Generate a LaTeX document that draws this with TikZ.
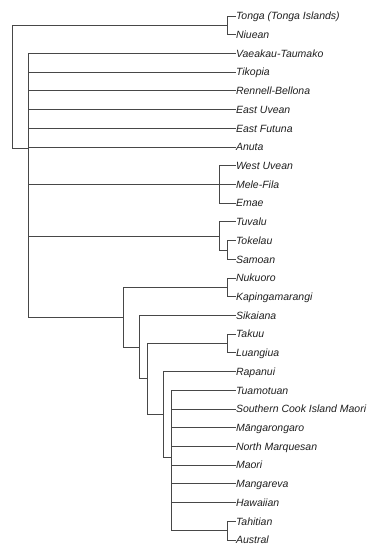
\documentclass[tikz,border=0pt]{standalone}
\usepackage{fontspec}
\setmainfont{Liberation Sans}
\begin{document}
\begin{tikzpicture}[x=1pt,y=-1pt,
  leaf/.style={anchor=west,inner sep=0pt,outer sep=0pt,text height=7.6pt,text depth=0pt,
    font=\fontsize{10.5}{12}\selectfont\itshape,text=black!88},
  br/.style={draw=black!72,line width=0.8pt}]
\useasboundingbox (0,0) rectangle (370,545);
% leaves
\node[leaf] (l0) at (236,16.00) {Tonga (Tonga Islands)};
\node[leaf] (l1) at (236,34.71) {Niuean};
\node[leaf] (l2) at (236,53.43) {Vaeakau-Taumako};
\node[leaf] (l3) at (236,72.14) {Tikopia};
\node[leaf] (l4) at (236,90.86) {Rennell-Bellona};
\node[leaf] (l5) at (236,109.57) {East Uvean};
\node[leaf] (l6) at (236,128.29) {East Futuna};
\node[leaf] (l7) at (236,147.00) {Anuta};
\node[leaf] (l8) at (236,165.71) {West Uvean};
\node[leaf] (l9) at (236,184.43) {Mele-Fila};
\node[leaf] (l10) at (236,203.14) {Emae};
\node[leaf] (l11) at (236,221.86) {Tuvalu};
\node[leaf] (l12) at (236,240.57) {Tokelau};
\node[leaf] (l13) at (236,259.29) {Samoan};
\node[leaf] (l14) at (236,278.00) {Nukuoro};
\node[leaf] (l15) at (236,296.71) {Kapingamarangi};
\node[leaf] (l16) at (236,315.43) {Sikaiana};
\node[leaf] (l17) at (236,334.14) {Takuu};
\node[leaf] (l18) at (236,352.86) {Luangiua};
\node[leaf] (l19) at (236,371.57) {Rapanui};
\node[leaf] (l20) at (236,390.29) {Tuamotuan};
\node[leaf] (l21) at (236,409.00) {Southern Cook Island Maori};
\node[leaf] (l22) at (236,427.71) {Māngarongaro};
\node[leaf] (l23) at (236,446.43) {North Marquesan};
\node[leaf] (l24) at (236,465.14) {Maori};
\node[leaf] (l25) at (236,483.86) {Mangareva};
\node[leaf] (l26) at (236,502.57) {Hawaiian};
\node[leaf] (l27) at (236,521.29) {Tahitian};
\node[leaf] (l28) at (236,540.00) {Austral};
% internal nodes
\coordinate (root) at (12,87.06);
\coordinate (tn) at (227.3,25.36);
\coordinate (main) at (28,148.76);
\coordinate (wu) at (219.3,184.43);
\coordinate (ts) at (227.3,249.93);
\coordinate (tuv) at (219.3,235.90);
\coordinate (nk) at (227.3,287.36);
\coordinate (tl) at (227.3,343.50);
\coordinate (ta) at (227.3,530.64);
\coordinate (ep) at (171.3,456.96);
\coordinate (rap) at (163.3,414.26);
\coordinate (tlp) at (147.3,378.88);
\coordinate (sik) at (139.3,347.16);
\coordinate (epc) at (123.7,317.26);
% branches
\draw[br] (root) |- (tn); \draw[br] (root) |- (main);
\draw[br] (tn) |- (l0.west); \draw[br] (tn) |- (l1.west);
\foreach \i in {2,...,7} {\draw[br] (main) |- (l\i.west);}
\draw[br] (main) |- (wu); \draw[br] (main) |- (tuv); \draw[br] (main) |- (epc);
\draw[br] (wu) |- (l8.west); \draw[br] (wu) -- (l9.west); \draw[br] (wu) |- (l10.west);
\draw[br] (tuv) |- (l11.west); \draw[br] (tuv) |- (ts);
\draw[br] (ts) |- (l12.west); \draw[br] (ts) |- (l13.west);
\draw[br] (epc) |- (nk); \draw[br] (epc) |- (sik);
\draw[br] (nk) |- (l14.west); \draw[br] (nk) |- (l15.west);
\draw[br] (sik) |- (l16.west); \draw[br] (sik) |- (tlp);
\draw[br] (tlp) |- (tl); \draw[br] (tlp) |- (rap);
\draw[br] (tl) |- (l17.west); \draw[br] (tl) |- (l18.west);
\draw[br] (rap) |- (l19.west); \draw[br] (rap) |- (ep);
\foreach \i in {20,...,26} {\draw[br] (ep) |- (l\i.west);}
\draw[br] (ep) |- (ta);
\draw[br] (ta) |- (l27.west); \draw[br] (ta) |- (l28.west);
\end{tikzpicture}
\end{document}
